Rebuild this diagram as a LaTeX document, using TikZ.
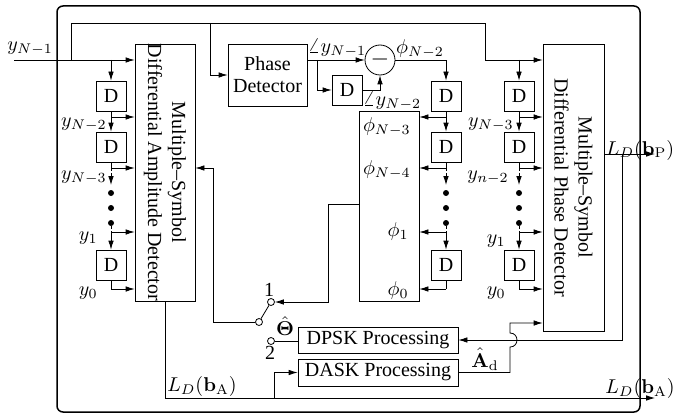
\documentclass[tikz,border=0pt]{standalone}
\usepackage{amsmath}
\usepackage{bm}
\usepackage[no-math]{fontspec}
\setmainfont{Liberation Serif}
\usetikzlibrary{arrows.meta}
\tikzset{
  box/.style={draw, inner sep=0pt},
  dbox/.style={box, minimum width=15pt, minimum height=15pt},
  lab/.style={inner sep=0pt},
  arr/.style={-{Latex[length=4.5pt,width=2.8pt]}},
  dotnode/.style={circle, fill, inner sep=0pt, minimum size=3pt},
  term/.style={circle, draw, fill=white, inner sep=0pt, minimum size=3.5pt},
  dsh/.style={dash pattern=on 1.5pt off 1pt},
}
\begin{document}
\begin{tikzpicture}[x=0.5pt,y=-0.5pt,line width=0.4pt]
\useasboundingbox (0,0) rectangle (673,417);
% frame
\draw[line width=0.75pt, rounded corners=3pt] (57,6) rectangle (640,412);

% main boxes
\node[box, minimum width=30pt, minimum height=128.5pt] (LB) at (165,172.5) {};
\node[rotate=-90, align=center] (LBt) at (LB.center) {Multiple--Symbol\\Differential Amplitude Detector};
\node[box, minimum width=30.5pt, minimum height=143.5pt] (RB) at (573.5,187.5) {};
\node[rotate=-90, align=center] (RBt) at (RB.center) {Multiple--Symbol\\Differential Phase Detector};
\node[box, minimum width=30pt, minimum height=95pt] (PB) at (389,206) {};
\node[box, minimum width=39.5pt, minimum height=31pt, align=center] (PD) at (267.5,75) {Phase\\[-1pt]Detector};
\node[box, minimum width=80pt, minimum height=13pt] (DPSK) at (378,340) {DPSK Processing};
\node[box, minimum width=80pt, minimum height=13.5pt] (DASK) at (378,372.5) {DASK Processing};
\node[circle, draw, inner sep=0pt, minimum size=15pt] (SUB) at (380,60) {\large$-$};
\node[dbox] (PDD) at (347,90) {D};

% delay columns
\foreach \c/\x in {L/111, M/446, R/519}{
  \node[dbox] (\c1) at (\x,96) {D};
  \node[dbox] (\c2) at (\x,147) {D};
  \node[dbox] (\c3) at (\x,265) {D};
  \node[dotnode] (\c d1) at (\x,193) {};
  \node[dotnode] (\c d2) at (\x,208) {};
  \node[dotnode] (\c d3) at (\x,223) {};
  \coordinate (\c b1) at (\x,117);
  \coordinate (\c b2) at (\x,168);
  \coordinate (\c e) at (\x,185);
  \coordinate (\c b3) at (\x,232);
  \coordinate (\c b4) at (\x,289);
  \coordinate (\c top) at (\x,60);
  \draw[arr] (\c1.south) -- (\c2.north);
  \draw (\c2.south) -- (\c b2);
  \draw[arr,dsh] (\c b2) -- (\c e);
  \draw[dsh] (\c d3) -- (\c b3);
  \draw[arr] (\c b3) -- (\c3.north);
  \draw (\c3.south) -- (\c b4);
}
\foreach \c/\t in {L/LB.west, M/PB.east, R/RB.west}{
  \foreach \b in {b1,b2,b3,b4}{
    \draw[arr] (\c\b) -- (\c\b -| \t);
  }
}
\draw[arr] (Ltop) -- (L1.north);
\draw[arr] (Rtop) -- (R1.north);
\draw[arr] (SUB.east) -- (Mtop) -- (M1.north);

% input and top wire
\coordinate (in) at (14,60);
\coordinate (j0) at (71,60);
\coordinate (tl) at (71,23);
\coordinate (tr) at (485,23);
\coordinate (j1) at (485,60);
\coordinate (tp) at (210,23);
\draw[arr] (in) -- (in -| LB.west);
\draw[arr] (j0) -- (tl) -- (tr) -- (j1) -- (j1 -| RB.west);
\draw[arr] (tp) |- (PD.west);

% phase detector path
\coordinate (pj) at (317,60);
\draw[arr] (SUB.west -| PD.east) -- (SUB.west);
\draw[arr] (pj) |- (PDD.west);
\draw[arr] (PDD.east) -| (SUB.south);

% switch
\node[term] (t1) at (271,302) {};
\node[term] (pole) at (259,322) {};
\node[term] (t2) at (271,341) {};
\coordinate (s1) at (328,204);
\coordinate (s2) at (213,322);
\coordinate (s3) at (213,168);
\draw[arr] (s1 -| PB.west) -- (s1) |- (t1);
\draw (pole) -- (t1);
\draw[arr] (pole) -- (s2) -- (s3) -- (s3 -| LB.east);
\draw (t2) -- (t2 -| DPSK.west);

% outputs
\coordinate (oP) at (655,154);
\coordinate (fb) at (622,154);
\draw[arr] (oP -| RB.east) -- (oP);
\draw[arr] (fb) |- (DPSK.east);
\coordinate (ha) at (510,347);
\coordinate (hb) at (510,333);
\coordinate (hc) at (510,323);
\draw[arr] (DASK.east) -| (ha) .. controls +(9.3,0) and +(9.3,0) .. (hb) -- (hc) -- (hc -| RB.west);
\coordinate (b0) at (165,398);
\coordinate (oA) at (655,398);
\coordinate (bb) at (274,398);
\draw[arr] (LB.south) -- (b0) -- (oA);
\draw[arr] (bb) |- (DASK.west);

% labels
\node[lab] (lyin) at (30,49) {$y_{N-1}$};
\node[lab, anchor=east] (ly2) at (107,125) {$y_{N-2}$};
\node[lab, anchor=east] (ly3) at (107,178) {$y_{N-3}$};
\node[lab, anchor=east] (ly1) at (98,238) {$y_{1}$};
\node[lab, anchor=east] (ly0) at (98,293) {$y_{0}$};
\node[lab, anchor=east] (mp3) at (411,127) {$\phi_{N-3}$};
\node[lab, anchor=east] (mp4) at (411,170) {$\phi_{N-4}$};
\node[lab, anchor=east] (mp1) at (409,231) {$\phi_{1}$};
\node[lab, anchor=east] (mp0) at (409,290) {$\phi_{0}$};
\node[lab, anchor=east] (ry3) at (514,125) {$y_{N-3}$};
\node[lab, anchor=east] (ry2) at (509,178) {$y_{n-2}$};
\node[lab, anchor=east] (ry1) at (506,241) {$y_{1}$};
\node[lab, anchor=east] (ry0) at (506,293) {$y_{0}$};
\node[lab] (ay1) at (337,48) {$\angle y_{N-1}$};
\node[lab] (ay2) at (392,101) {$\angle y_{N-2}$};
\node[lab] (pN2) at (420,49) {$\phi_{N-2}$};
\node[lab] (LP) at (640,150) {$L_D(\mathbf{b}_{\mathrm{P}})$};
\node[lab] (LA2) at (640,388) {$L_D(\mathbf{b}_{\mathrm{A}})$};
\node[lab] (LA1) at (202,386) {$L_D(\mathbf{b}_{\mathrm{A}})$};
\node[lab] (Ad) at (485,359) {$\hat{\mathbf{A}}_{\mathrm{d}}$};
\node[lab] (Th) at (285,326) {$\hat{\bm{\Theta}}$};
\node[lab] (n1) at (269,290) {1};
\node[lab] (n2) at (270,353) {2};
\end{tikzpicture}
\end{document}
